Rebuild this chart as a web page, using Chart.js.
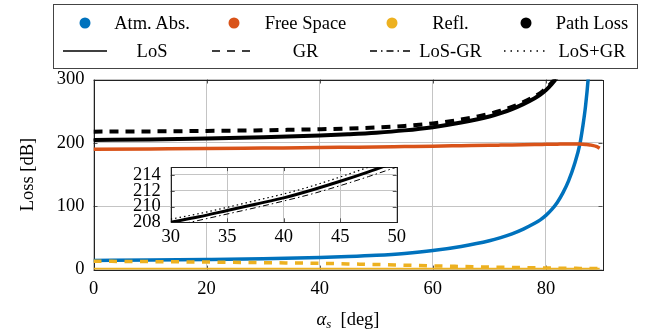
<!DOCTYPE html>
<html>
<head>
<meta charset="utf-8">
<script src="https://cdn.jsdelivr.net/npm/chart.js@4.4.1/dist/chart.umd.min.js"></script>
<style>
  html, body { margin: 0; padding: 0; background: #fff; }
  #wrap { position: relative; width: 657px; height: 334px; overflow: hidden;
          font-family: "Liberation Serif", "DejaVu Serif", serif; color: #000; }
  #main { position: absolute; left: 0; top: 0; }
  #inset { position: absolute; left: 110px; top: 146px; }
  #legendBox { position: absolute; left: 53px; top: 4px; width: 585px; height: 65px;
               border: 1px solid #444; box-sizing: border-box; }
  .lg { position: absolute; font-size: 18.5px; line-height: 1; white-space: nowrap;
        transform: translate(-50%, -50%); }
  .dot { position: absolute; width: 11px; height: 11px; border-radius: 50%;
         transform: translate(-50%, -50%); }
  .mk { position: absolute; transform: translate(-50%, -50%); }
  #xtitle { position: absolute; left: 348px; top: 320px; font-size: 18.5px; line-height: 1;
            transform: translate(-50%, -50%); white-space: nowrap; }
  #xtitle sub { font-size: 13px; vertical-align: -3px; }
</style>
</head>
<body>
<div id="wrap">
  <canvas id="main" width="657" height="334"></canvas>
  <canvas id="inset" width="300" height="110"></canvas>
  <div id="legendBox"></div>
  <div id="legend"></div>
  <div id="xtitle"><i>α</i><sub><i>s</i></sub>&nbsp;&nbsp;[deg]</div>
</div>
<script>
// ---- data ----
const seriesNames = ['Atm. Abs.', 'Free Space', 'Refl.', 'Path Loss'];
const styleNames = ['LoS', 'GR', 'LoS-GR', 'LoS+GR'];

const xTicks = [0, 20, 40, 60, 80];
const yTicks = [0, 100, 200, 300];
const insetXTicks = [30, 35, 40, 45, 50];
const insetYTicks = [208, 210, 212, 214];

const alpha = [0, 10, 20, 30, 40, 45, 50, 55, 60, 65, 70, 72, 74, 76, 78, 79, 80,
               81, 82, 83, 84, 85, 86, 86.5, 87, 87.5, 88, 89, 89.5];
const atmAbs = [14.5, 15, 15.9, 17.1, 19, 20.5, 22.5, 25.5, 30, 36.5, 45.5, 50.5, 56.5, 64, 73, 78.5, 85.5,
                94.5, 106, 121, 140, 165, 198, 225, 258, 305, 380, null, null];
const freeSpace = [190, 190.5, 191, 191.8, 192.6, 193.1, 193.6, 194.2, 194.8, 195.5, 196.2, 196.5, 196.8, 197.1, 197.4, 197.55, 197.7,
                   197.9, 198, 198.1, 198.2, 198.2, 198.1, 197.9, 197.6, 197.2, 196.4, 194, 191.5];
const reflLos = [0.6, 0.6, 0.6, 0.6, 0.6, 0.6, 0.6, 0.6, 0.6, 0.6, 0.6, 0.6, 0.6, 0.6, 0.6, 0.6, 0.6,
                 0.6, 0.6, 0.6, 0.6, 0.6, 0.6, 0.6, 0.6, 0.6, 0.6, 0.6, 0.6];
const reflGr = [13.2, 12.6, 11.9, 11, 9.9, 9, 8.1, 7, 5.9, 4.9, 4, 3.7, 3.4, 3.1, 2.8, 2.65, 2.5,
                2.4, 2.3, 2.2, 2.1, 2, 1.9, 1.9, 1.8, 1.8, 1.7, 1.6, 1.5];
const pathLos = [204.5, 205.5, 206.9, 208.9, 211.6, 213.6, 216.1, 219.7, 224.8, 232, 241.7, 247, 253.3, 261.1, 270.4, 276, 283.2,
                 292.4, 304, 319.1, 338.2, null, null, null, null, null, null, null, null];
const pathGr = [217.7, 218.1, 218.8, 219.9, 221.5, 222.6, 224.2, 226.7, 230.7, 236.9, 245.7, 250.7, 256.7, 264.2, 273.2, 278.65, 285.7,
                294.8, 306.3, 321.3, 340.3, null, null, null, null, null, null, null, null];
const pathLosMinusGr = [204.1, 205.1, 206.5, 208.5, 211.2, 213.2, 215.7, 219.3, 224.4, 231.6, 241.3, 246.6, 252.9, 260.7, 270, 275.6, 282.8,
                        292, 303.6, 318.7, 337.8, null, null, null, null, null, null, null, null];
const pathLosPlusGr = [205, 206, 207.4, 209.4, 212.1, 214.1, 216.6, 220.2, 225.3, 232.5, 242.2, 247.5, 253.8, 261.6, 270.9, 276.5, 283.7,
                       292.9, 304.5, 319.6, 338.7, null, null, null, null, null, null, null, null];

const insetAlpha = [30, 32.5, 35, 37.5, 40, 42.5, 45, 47.5, 50];
const insetLos = [208.0, 208.7, 209.5, 210.3, 211.1, 212.1, 213.2, 214.4, 215.7];
const insetPlusGr = [208.4, 209.1, 209.9, 210.75, 211.6, 212.6, 213.75, 215.0, 216.3];
const insetMinusGr = [207.5, 208.25, 209.05, 209.85, 210.7, 211.6, 212.65, 213.8, 215.0];

// ---- styling ----
const BLUE = '#0072BD', ORANGE = '#D95319', YELLOW = '#EDB120', BLACK = '#000000';
const GRID = '#c4c4c4';
const FONT = { family: 'Liberation Serif', size: 18.5 };

function pts(xs, ys) {
    return xs.map((x, i) => ({ x: x, y: ys[i] }));
}

function line(label, xs, ys, color, width, dash, order) {
    return {
        label: label,
        data: pts(xs, ys),
        borderColor: color,
        backgroundColor: color,
        borderWidth: width,
        borderDash: dash || [],
        borderCapStyle: 'butt',
        pointRadius: 0,
        cubicInterpolationMode: 'monotone',
        fill: false,
        order: order
    };
}

// frame + inward tick marks, pgfplots style
const framePlugin = {
    id: 'frame',
    beforeDraw(chart, args, opts) {
        if (!opts.fill) return;
        const a = chart.chartArea, ctx = chart.ctx;
        ctx.save();
        ctx.fillStyle = '#fff';
        ctx.fillRect(a.left, a.top, a.right - a.left, a.bottom - a.top);
        ctx.restore();
    },
    beforeDatasetsDraw(chart) {
        const a = chart.chartArea, ctx = chart.ctx;
        const xs = chart.scales.x, ys = chart.scales.y;
        ctx.save();
        ctx.strokeStyle = '#555';
        ctx.lineWidth = 1;
        ctx.beginPath();
        xs.ticks.forEach(t => {
            const p = Math.round(xs.getPixelForValue(t.value)) + 0.5;
            ctx.moveTo(p, a.bottom); ctx.lineTo(p, a.bottom - 4);
            ctx.moveTo(p, a.top); ctx.lineTo(p, a.top + 4);
        });
        ys.ticks.forEach(t => {
            const p = Math.round(ys.getPixelForValue(t.value)) + 0.5;
            ctx.moveTo(a.left, p); ctx.lineTo(a.left + 4, p);
            ctx.moveTo(a.right, p); ctx.lineTo(a.right - 4, p);
        });
        ctx.stroke();
        ctx.strokeStyle = '#222';
        ctx.strokeRect(Math.round(a.left) + 0.5, Math.round(a.top) + 0.5,
                       Math.round(a.right - a.left), Math.round(a.bottom - a.top));
        ctx.restore();
    }
};

function axis(min, max, ticks, fitKey, fitVal, pad, extra) {
    return Object.assign({
        type: 'linear',
        min: min,
        max: max,
        afterBuildTicks: s => { s.ticks = ticks.map(v => ({ value: v })); },
        afterFit: s => { s[fitKey] = fitVal; },
        grid: { color: GRID, lineWidth: 1, drawTicks: false },
        border: { display: false },
        ticks: { font: FONT, color: '#000', padding: pad, maxRotation: 0, autoSkip: false }
    }, extra || {});
}

// ---- main chart ----
new Chart(document.getElementById('main').getContext('2d'), {
    type: 'line',
    data: {
        datasets: [
            line(styleNames[0], alpha, pathLos, BLACK, 4, [], 1),
            line(styleNames[1], alpha, pathGr, BLACK, 4, [9, 7], 2),
            line(styleNames[2], alpha, pathLosMinusGr, BLACK, 1, [6, 3, 1.5, 3], 3),
            line(styleNames[3], alpha, pathLosPlusGr, BLACK, 1.2, [1.5, 3], 3),
            line(seriesNames[1], alpha, freeSpace, ORANGE, 3.5, [], 4),
            line(seriesNames[2] + ' ' + styleNames[1], alpha, reflGr, YELLOW, 3.5, [8, 7.5], 5),
            line(seriesNames[0], alpha, atmAbs, BLUE, 3.5, [], 6),
            line(seriesNames[2] + ' ' + styleNames[0], alpha, reflLos, YELLOW, 3, [], 7)
        ]
    },
    options: {
        responsive: false,
        animation: false,
        layout: { padding: { top: 79.5, right: 54.5, left: 0, bottom: 0 } },
        plugins: { legend: { display: false }, tooltip: { enabled: false }, frame: { fill: false } },
        scales: {
            x: axis(0, 90, xTicks, 'height', 64.4, 8),
            y: axis(0, 300, yTicks, 'width', 93.5, 9, {
                title: { display: true, text: 'Loss [dB]', font: FONT, color: '#000', padding: { top: 17, bottom: 0 } }
            })
        }
    },
    plugins: [framePlugin]
});

// ---- inset (zoom of the path loss curves) ----
new Chart(document.getElementById('inset').getContext('2d'), {
    type: 'line',
    data: {
        datasets: [
            line(styleNames[0], insetAlpha, insetLos, BLACK, 3, [], 1),
            line(styleNames[2], insetAlpha, insetMinusGr, BLACK, 1, [6, 3, 1.5, 3], 2),
            line(styleNames[3], insetAlpha, insetPlusGr, BLACK, 1.2, [1.5, 3], 3)
        ]
    },
    options: {
        responsive: false,
        animation: false,
        layout: { padding: { top: 10, right: 9.3, left: 0, bottom: 0 } },
        plugins: { legend: { display: false }, tooltip: { enabled: false }, frame: { fill: true } },
        scales: {
            x: axis(30, 50, insetXTicks, 'height', 33.7, 4),
            y: axis(208, 215, insetYTicks, 'width', 60.7, 10)
        }
    },
    plugins: [framePlugin]
});

// ---- legend (two rows, four columns) ----
const legendMarkerX = [84.5, 234, 391.5, 526];
const legendTextX = [152, 305.5, 450.5, 592];
const legendRowY = [23, 50.7];
const markerColors = [BLUE, ORANGE, YELLOW, BLACK];
const markerDash = ['', '8 7', '7 4 1.5 4', '1.5 5'];

const legend = document.getElementById('legend');
function place(el, x, y) {
    el.style.left = x + 'px';
    el.style.top = y + 'px';
    legend.appendChild(el);
}
seriesNames.forEach((name, i) => {
    const d = document.createElement('div');
    d.className = 'dot';
    d.style.background = markerColors[i];
    place(d, legendMarkerX[i], legendRowY[0]);
    const t = document.createElement('div');
    t.className = 'lg';
    t.textContent = name;
    place(t, legendTextX[i], legendRowY[0]);
});
styleNames.forEach((name, i) => {
    const s = document.createElementNS('http://www.w3.org/2000/svg', 'svg');
    s.setAttribute('width', '44');
    s.setAttribute('height', '6');
    s.setAttribute('class', 'mk');
    s.innerHTML = '<line x1="0" y1="3" x2="44" y2="3" stroke="#000" stroke-width="1.3"' +
        (markerDash[i] ? ' stroke-dasharray="' + markerDash[i] + '"' : '') + '/>';
    place(s, legendMarkerX[i], legendRowY[1]);
    const t = document.createElement('div');
    t.className = 'lg';
    t.textContent = name;
    place(t, legendTextX[i], legendRowY[1]);
});
</script>
</body>
</html>
